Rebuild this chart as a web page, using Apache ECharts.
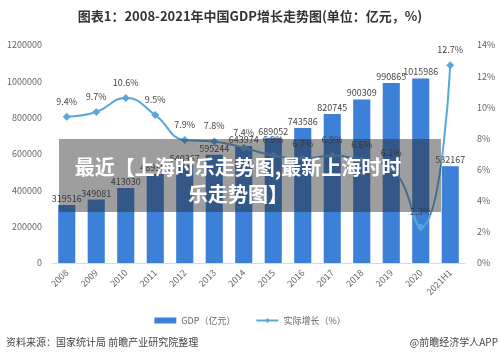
<!DOCTYPE html>
<html>
<head>
<meta charset="utf-8">
<script src="https://cdn.jsdelivr.net/npm/echarts@6/dist/echarts.min.js"></script>
<style>
html,body{margin:0;padding:0;background:#fff;}
#main{width:500px;height:361px;}
</style>
</head>
<body>
<div id="main"></div>
<script>
var years = ['2008','2009','2010','2011','2012','2013','2014','2015','2016','2017','2018','2019','2020','2021H1'];
var gdp = [319516, 349081, 413030, 489301, 540367, 595244, 643974, 689052, 743586, 820745, 900309, 990865, 1015986, 532167];
var growth = [9.4, 9.7, 10.6, 9.5, 7.9, 7.8, 7.4, 6.9, 6.7, 6.9, 6.6, 6.1, 2.3, 12.7];

var chart = echarts.init(document.getElementById('main'));
var font = '"Noto Sans CJK SC", "Noto Sans", sans-serif';

chart.setOption({
    textStyle: {fontFamily: font},
    title: {
        text: '图表1：2008-2021年中国GDP增长走势图(单位：亿元，%)',
        left: 'center',
        top: 5,
        textStyle: {fontSize: 13, fontWeight: 'bold', color: '#333', fontFamily: font}
    },
    grid: {left: 52, right: 35, top: 45, bottom: 98},
    legend: {
        bottom: 31,
        left: 'center',
        itemWidth: 22,
        itemHeight: 6,
        itemGap: 20,
        textStyle: {fontSize: 9, color: '#666'},
        data: [
            {name: 'GDP（亿元）', icon: 'rect'},
            {name: '实际增长（%）'}
        ]
    },
    xAxis: {
        type: 'category',
        data: years,
        axisLine: {lineStyle: {color: '#d9d9d9'}},
        axisTick: {show: false},
        axisLabel: {rotate: 45, fontSize: 9, color: '#666', margin: 8}
    },
    yAxis: [{
        type: 'value',
        min: 0,
        max: 1200000,
        interval: 200000,
        splitLine: {show: false},
        axisLabel: {fontSize: 9, color: '#666', margin: 10, formatter: function (v) { return String(v); }}
    }, {
        type: 'value',
        min: 0,
        max: 14,
        interval: 2,
        splitLine: {show: false},
        axisLabel: {fontSize: 9, color: '#666', formatter: '{value}%', margin: 12}
    }],
    series: [{
        name: 'GDP（亿元）',
        type: 'bar',
        data: gdp,
        barWidth: '58%',
        itemStyle: {color: '#3d80d8'},
        label: {show: true, position: 'top', fontSize: 9, color: '#444', distance: 2}
    }, {
        name: '实际增长（%）',
        type: 'line',
        yAxisIndex: 1,
        data: growth,
        smooth: true,
        symbol: 'diamond',
        symbolSize: 8,
        lineStyle: {color: '#5aa6dc', width: 2},
        itemStyle: {color: '#5aa6dc'},
        label: {show: true, position: 'top', fontSize: 9, color: '#444', formatter: '{c}%', distance: 7}
    }],
    graphic: [{
        type: 'rect',
        shape: {x: 59, y: 139, width: 382, height: 73},
        style: {fill: 'rgba(40,40,40,0.45)'},
        z: 100
    }, {
        type: 'text',
        x: 238,
        y: 154,
        style: {
            text: '最近【上海时乐走势图,最新上海时时\n乐走势图】',
            fill: '#fff',
            font: 'bold 20px ' + font,
            align: 'center',
            verticalAlign: 'top',
            lineHeight: 27
        },
        z: 101
    }, {
        type: 'text',
        left: 6,
        top: 337,
        style: {text: '资料来源：国家统计局 前瞻产业研究院整理', fill: '#444', font: '10px ' + font}
    }, {
        type: 'text',
        right: 2,
        top: 337,
        style: {text: '@前瞻经济学人APP', fill: '#444', font: '10px ' + font}
    }]
});
</script>
</body>
</html>
